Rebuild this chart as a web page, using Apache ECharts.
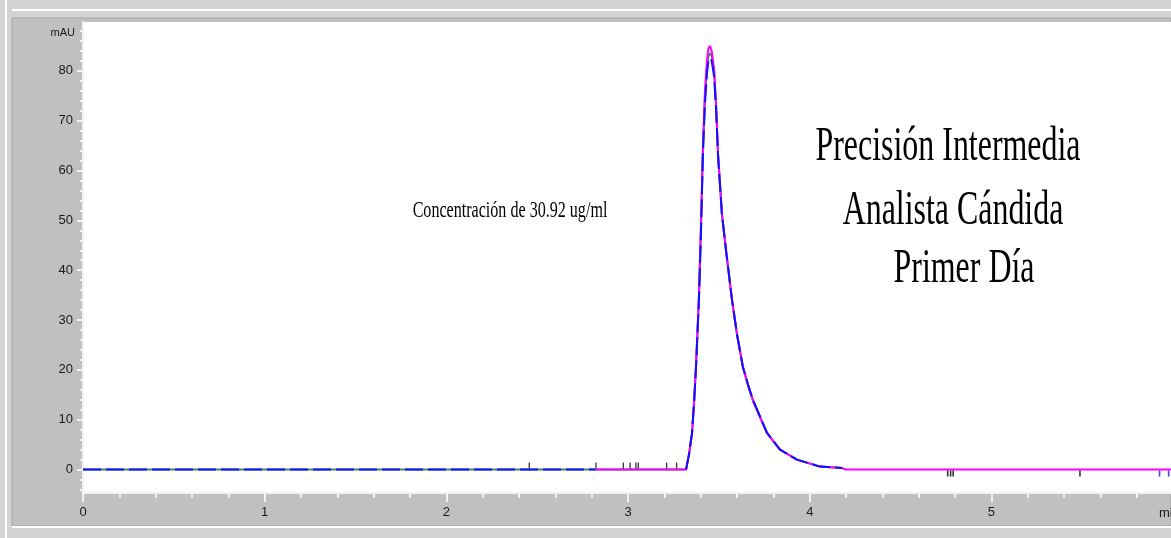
<!DOCTYPE html>
<html>
<head>
<meta charset="utf-8">
<script src="https://cdn.jsdelivr.net/npm/echarts@6/dist/echarts.min.js"></script>
<style>
  html, body { margin: 0; padding: 0; background: #d4d4d4; }
  #chart { width: 1171px; height: 538px; }
</style>
</head>
<body>
<div id="chart"></div>
<script>
// retention time (min) and detector signal (mAU)
const times = [0, 2.82, 3.30, 3.319, 3.335, 3.352, 3.364, 3.374, 3.390, 3.401, 3.412, 3.423, 3.434, 3.442, 3.451,
  3.460, 3.473, 3.484, 3.495, 3.516, 3.539, 3.572, 3.600, 3.632, 3.660, 3.687, 3.764, 3.836, 3.929, 4.056, 4.177, 4.20, 5.988]
const blueTrace = [0, 0, null, 0, 3, 7.4, 14, 20.6, 34, 47.4, 63.4, 73.4, 79.5, 82, 82.5,
  82, 79, 72.5, 63, 51.4, 44, 34, 27, 20.6, 17, 14, 7.4, 4, 2, 0.6, 0.3, null, null]
const magentaTrace = [null, 0, 0, 0, 3, 7.2, 14, 21, 35, 49, 65, 76, 82, 84.5, 85,
  84, 80.5, 73.5, 63.5, 51.5, 44, 34, 27, 20.5, 17, 13.8, 7.3, 4, 2, 0.6, 0.3, 0, 0]
const greenTrace = [0, 0, 0, 0, 3, 7.3, 14, 20.8, 34.5, 48, 64, 74.5, 80.5, 83, 83.5,
  83, 80, 73, 63.2, 51.4, 44, 34, 27, 20.6, 17, 14, 7.4, 4, 2, 0.6, 0.3, 0, null]

// integration event marks
const marksAbove = [2.456, 2.823, 2.974, 3.011, 3.043, 3.056, 3.212, 3.267]
const marksBelow = [4.759, 4.775, 4.789, 5.487]
const marksBlue = [5.925, 5.975]

const xMajorTicks = [0, 1, 2, 3, 4, 5]
const xMinorTicks = [0, 0.2, 0.4, 0.6, 0.8, 1, 1.2, 1.4, 1.6, 1.8, 2, 2.2, 2.4, 2.6, 2.8, 3, 3.2, 3.4, 3.6, 3.8,
  4, 4.2, 4.4, 4.6, 4.8, 5, 5.2, 5.4, 5.6, 5.8]
const yMajorTicks = [0, 10, 20, 30, 40, 50, 60, 70, 80]
const yMinorTicks = [-4, -2, 0, 2, 4, 6, 8, 10, 12, 14, 16, 18, 20, 22, 24, 26, 28, 30, 32, 34, 36, 38, 40, 42, 44,
  46, 48, 50, 52, 54, 56, 58, 60, 62, 64, 66, 68, 70, 72, 74, 76, 78, 80, 82, 84, 86, 88]

const pair = arr => times.map((t, i) => [t, arr[i]])
const marks = arr => arr.map(t => [t, 0])

const axisColor = '#f2f2f2'
const labelStyle = { color: '#1a1a1a', fontFamily: 'Liberation Sans', fontSize: 13 }

const chart = echarts.init(document.getElementById('chart'))
chart.setOption({
  backgroundColor: '#d4d4d4',
  animation: false,
  grid: {
    left: 83, right: 0, top: 22, bottom: 45,
    show: true, backgroundColor: '#ffffff', borderWidth: 0,
  },
  xAxis: [
    {
      type: 'value', min: 0, max: 5.988,
      axisLine: { show: true, onZero: false, lineStyle: { color: axisColor, width: 2 } },
      axisTick: { show: true, customValues: xMajorTicks, length: 9, lineStyle: { color: axisColor, width: 2 } },
      axisLabel: { customValues: xMajorTicks, margin: 13, ...labelStyle },
      splitLine: { show: false },
    },
    {
      type: 'value', min: 0, max: 5.988, position: 'bottom',
      axisLine: { show: false, onZero: false },
      axisTick: { show: true, customValues: xMinorTicks, length: 5, lineStyle: { color: axisColor, width: 2 } },
      axisLabel: { show: false },
      splitLine: { show: false },
    },
  ],
  yAxis: [
    {
      type: 'value', min: -4.7, max: 89.8,
      axisLine: { show: true, onZero: false, lineStyle: { color: axisColor, width: 2 } },
      axisTick: { show: true, customValues: yMajorTicks, length: 6, lineStyle: { color: axisColor, width: 2 } },
      axisLabel: { customValues: yMajorTicks, margin: 10, ...labelStyle },
      splitLine: { show: false },
    },
    {
      type: 'value', min: -4.7, max: 89.8, position: 'left',
      axisLine: { show: false, onZero: false },
      axisTick: { show: true, customValues: yMinorTicks, length: 3, lineStyle: { color: axisColor, width: 2 } },
      axisLabel: { show: false },
      splitLine: { show: false },
    },
  ],
  series: [
    {
      type: 'line', data: pair(greenTrace), showSymbol: false, z: 1,
      lineStyle: { color: '#3c8c6a', width: 2 },
    },
    {
      type: 'line', data: pair(magentaTrace), showSymbol: false, z: 2,
      lineStyle: { color: '#ff00ff', width: 2 },
    },
    {
      type: 'line', data: pair(blueTrace), showSymbol: false, z: 3,
      lineStyle: { color: '#1010ff', width: 2, type: [18, 5] },
    },
    {
      type: 'scatter', data: marks(marksAbove), symbol: 'rect', symbolSize: [1.3, 6], symbolOffset: [0, -4], z: 4,
      itemStyle: { color: '#000' },
    },
    {
      type: 'scatter', data: marks(marksBelow), symbol: 'rect', symbolSize: [1.6, 6], symbolOffset: [0, 4], z: 4,
      itemStyle: { color: '#000' },
    },
    {
      type: 'scatter', data: marks(marksBlue), symbol: 'rect', symbolSize: [1.6, 6], symbolOffset: [0, 4], z: 4,
      itemStyle: { color: '#1010ff' },
    },
  ],
  graphic: [
    // window frame
    { type: 'rect', silent: true, z: -10, shape: { x: 5, y: 0, width: 2, height: 538 }, style: { fill: '#ffffff' } },
    { type: 'rect', silent: true, z: -10, shape: { x: 12, y: 9, width: 1159, height: 2 }, style: { fill: '#ffffff' } },
    { type: 'rect', silent: true, z: -10, shape: { x: 12, y: 18, width: 1159, height: 508 }, style: { fill: '#c0c0c0', stroke: '#a4a4a4', lineWidth: 1 } },
    { type: 'rect', silent: true, z: -9, shape: { x: 12, y: 526, width: 1159, height: 2 }, style: { fill: '#ffffff' } },
    // axis units
    { type: 'text', x: 75, y: 33, style: { text: 'mAU', fill: '#1a1a1a', font: '11px "Liberation Sans"', textAlign: 'right', textVerticalAlign: 'middle' } },
    { type: 'text', x: 1159, y: 513, style: { text: 'min', fill: '#1a1a1a', font: '13px "Liberation Sans"', textAlign: 'left', textVerticalAlign: 'middle' } },
    // annotations
    { type: 'text', x: 510, y: 211, scaleX: 0.67, style: { text: 'Concentración de 30.92 ug/ml', fill: '#000', font: '24px "Liberation Serif"', textAlign: 'center', textVerticalAlign: 'middle' } },
    { type: 'text', x: 948, y: 147, scaleX: 0.665, style: { text: 'Precisión Intermedia', fill: '#000', font: '48px "Liberation Serif"', textAlign: 'center', textVerticalAlign: 'middle' } },
    { type: 'text', x: 953, y: 211, scaleX: 0.665, style: { text: 'Analista Cándida', fill: '#000', font: '48px "Liberation Serif"', textAlign: 'center', textVerticalAlign: 'middle' } },
    { type: 'text', x: 964, y: 269, scaleX: 0.665, style: { text: 'Primer Día', fill: '#000', font: '48px "Liberation Serif"', textAlign: 'center', textVerticalAlign: 'middle' } },
  ],
})
</script>
</body>
</html>
